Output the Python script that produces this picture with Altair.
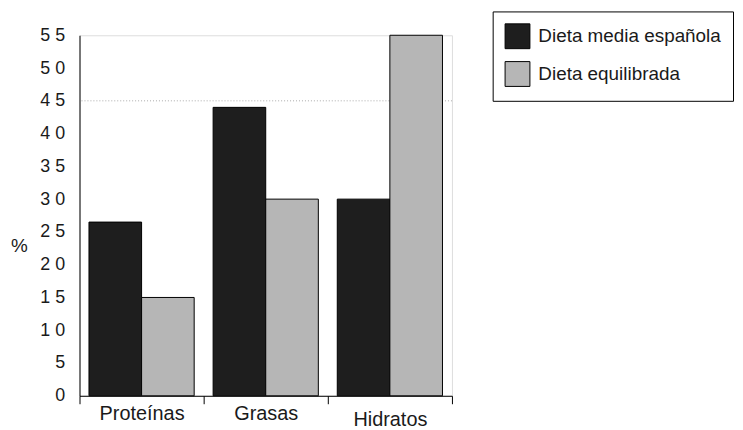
import altair as alt
import pandas as pd

categories = ["Proteínas", "Grasas", "Hidratos"]
series = ["Dieta media española", "Dieta equilibrada"]
dieta_media = [26.5, 44, 30]
dieta_equilibrada = [15, 30, 55]
y_ticks = [0, 5, 10, 15, 20, 25, 30, 35, 40, 45, 50, 55]
reference_line = [45]

rows = []
for c, a, b in zip(categories, dieta_media, dieta_equilibrada):
    rows.append({"category": c, "serie": series[0], "value": a})
    rows.append({"category": c, "serie": series[1], "value": b})
df = pd.DataFrame(rows)
ref_df = pd.DataFrame({"v": reference_line})

FONT = "Liberation Sans"
TXT = "#1a1a1a"

x_enc = alt.X(
    "category:N",
    sort=categories,
    scale=alt.Scale(paddingInner=0, paddingOuter=0),
    axis=alt.Axis(
        title=None,
        tickBand="extent",
        tickSize=8,
        tickColor="black",
        domainColor="black",
        labelFont=FONT,
        labelFontSize=20,
        labelColor=TXT,
        labelAngle=0,
        labelPadding={"condition": {"test": "datum.value == 'Hidratos'", "value": 6}, "value": 0},
        grid=False,
    ),
)

y_scale = alt.Scale(domain=[0, 55], nice=False)
y_axis = alt.Axis(
    values=y_ticks,
    ticks=False,
    grid=False,
    domainColor="black",
    labelFont=FONT,
    labelFontSize=18,
    labelColor=TXT,
    labelPadding=15,
    labelExpr="datum.value >= 10 ? (floor(datum.value / 10) + ' ' + (datum.value % 10)) : datum.label",
    title="%",
    titleAngle=0,
    titleX=-61,
    titleY=212,
    titleAlign="center",
    titleBaseline="middle",
    titleFont=FONT,
    titleFontSize=19,
    titleFontWeight="normal",
    titleColor=TXT,
)

rule = alt.Chart(ref_df).mark_rule(color="#aaaaaa", strokeDash=[1, 2], strokeWidth=1).encode(
    y=alt.Y("v:Q", scale=y_scale, axis=y_axis)
)

bars = alt.Chart(df).mark_bar(stroke="black", strokeWidth=1).encode(
    x=x_enc,
    xOffset=alt.XOffset("serie:N", sort=series, scale=alt.Scale(paddingInner=0, paddingOuter=0.18)),
    y=alt.Y("value:Q", scale=y_scale, axis=y_axis),
    color=alt.Color(
        "serie:N",
        sort=series,
        scale=alt.Scale(domain=series, range=["#1e1e1e", "#b6b6b6"]),
        legend=alt.Legend(
            title=None,
            orient="none",
            legendX=416,
            legendY=-24,
            strokeColor="black",
            fillColor="white",
            padding=12,
            symbolType="square",
            symbolSize=625,
            symbolStrokeColor="black",
            symbolStrokeWidth=1,
            symbolOpacity=1,
            labelFont=FONT,
            labelFontSize=19,
            labelColor=TXT,
            labelOffset=8,
            labelLimit=400,
            rowPadding=8,
        ),
    ),
)

chart = alt.layer(rule, bars).properties(
    width=375,
    height=363,
    padding={"left": 72, "top": 26, "right": 285, "bottom": 33},
    autosize=alt.AutoSizeParams(type="none"),
).configure_view(stroke=None).configure(background="white")

chart.save("out.html", embed_options={"renderer": "svg", "actions": False})
